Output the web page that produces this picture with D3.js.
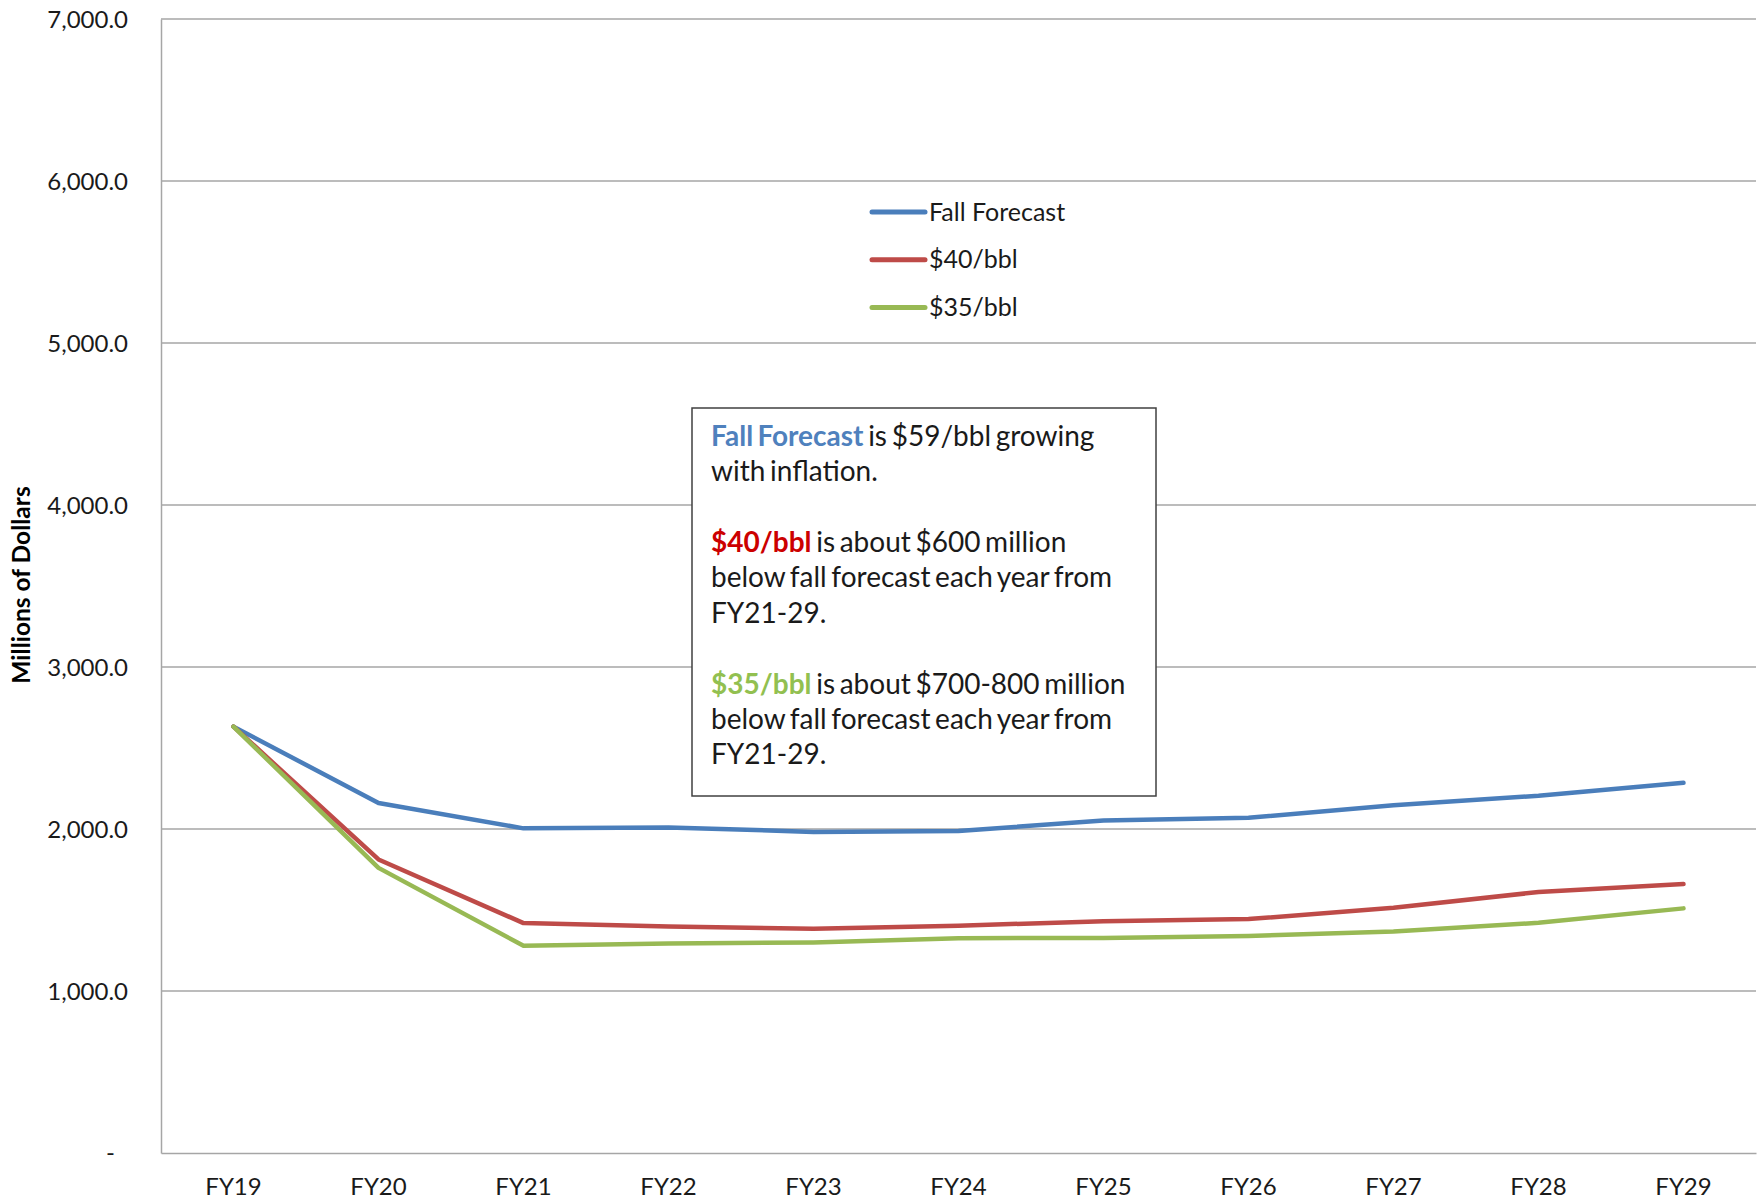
<!DOCTYPE html>
<html>
<head>
<meta charset="utf-8">
<script src="https://cdn.jsdelivr.net/npm/d3@7"></script>
<style>
  html, body { margin: 0; padding: 0; background: #fff; }
  svg { display: block; font-family: Lato, "Noto Sans", sans-serif; }
</style>
</head>
<body>
<svg id="chart" width="1764" height="1202"></svg>
<script>
// Fiscal years on the x axis
const years = ["FY19", "FY20", "FY21", "FY22", "FY23", "FY24", "FY25", "FY26", "FY27", "FY28", "FY29"];

// Revenue by oil price scenario, millions of dollars
const fallForecast = [2632, 2160, 2004, 2010, 1982, 1988, 2052, 2069, 2146, 2205, 2285];
const bbl40        = [2632, 1812, 1419, 1398, 1384, 1403, 1431, 1444, 1514, 1611, 1660];
const bbl35        = [2632, 1760, 1279, 1293, 1300, 1326, 1327, 1340, 1368, 1421, 1510];

const seriesNames = ["Fall Forecast", "$40/bbl", "$35/bbl"];
const yTicks = [0, 1000, 2000, 3000, 4000, 5000, 6000, 7000];

const series = [
  { name: seriesNames[0], values: fallForecast, color: "#4a7ebb" },
  { name: seriesNames[1], values: bbl40,        color: "#be4b48" },
  { name: seriesNames[2], values: bbl35,        color: "#98b954" }
];

const svg = d3.select("#chart");
const plot = { left: 161, right: 1756, top: 19, bottom: 1153 };

const x = d3.scaleBand().domain(years).range([plot.left, plot.right]);
const y = d3.scaleLinear().domain([0, 7000]).range([plot.bottom, plot.top]);
const cx = d => x(d) + x.bandwidth() / 2;

// Horizontal gridlines
svg.append("g")
  .selectAll("line")
  .data(yTicks.filter(t => t > 0))
  .join("line")
  .attr("x1", plot.left).attr("x2", plot.right)
  .attr("y1", d => y(d)).attr("y2", d => y(d))
  .attr("stroke", "#a6a6a6").attr("stroke-width", 1.5);

// Y axis with accounting-style labels
const fmt = d3.format(",.1f");
const yAxis = svg.append("g")
  .attr("transform", `translate(${plot.left},0)`)
  .call(d3.axisLeft(y).tickValues(yTicks).tickSize(0).tickPadding(33)
    .tickFormat(d => d === 0 ? "-" : fmt(d)));
yAxis.select(".domain").attr("stroke", "#a6a6a6").attr("stroke-width", 1.5);
yAxis.selectAll("text")
  .attr("font-size", 24).attr("fill", "#1a1a1a")
  .attr("font-family", "Lato, 'Noto Sans', sans-serif")
  .attr("dy", "0.35em")
  .filter(d => d === 0).attr("x", -46).attr("dy", "0.3em");

// X axis
const xAxis = svg.append("g")
  .attr("transform", `translate(0,${plot.bottom})`)
  .call(d3.axisBottom(x).tickSize(0).tickPadding(0));
xAxis.select(".domain").attr("stroke", "#a6a6a6").attr("stroke-width", 1.5);
xAxis.selectAll("text")
  .attr("font-size", 24).attr("fill", "#1a1a1a")
  .attr("font-family", "Lato, 'Noto Sans', sans-serif")
  .attr("y", 34).attr("dy", "0.35em");

// Axis title
svg.append("text")
  .attr("transform", "translate(30,585) rotate(-90)")
  .attr("text-anchor", "middle")
  .attr("font-size", 24.5).attr("font-weight", "bold").attr("fill", "#000")
  .text("Millions of Dollars");

// Series lines
const line = d3.line()
  .x((d, i) => cx(years[i]))
  .y(d => y(d));

svg.append("g")
  .selectAll("path")
  .data(series)
  .join("path")
  .attr("d", d => line(d.values))
  .attr("fill", "none")
  .attr("stroke", d => d.color)
  .attr("stroke-width", 4.5)
  .attr("stroke-linejoin", "round")
  .attr("stroke-linecap", "round");

// Legend
const legend = svg.append("g").attr("transform", "translate(872,212)");
const row = legend.selectAll("g")
  .data(series)
  .join("g")
  .attr("transform", (d, i) => `translate(0,${i * 47.7})`);
row.append("line")
  .attr("x1", 0).attr("x2", 53)
  .attr("stroke", d => d.color).attr("stroke-width", 5)
  .attr("stroke-linecap", "round");
row.append("text")
  .attr("x", 57).attr("dy", "0.35em")
  .attr("font-size", 25).attr("fill", "#1a1a1a")
  .text(d => d.name);

// Annotation box
const note = svg.append("g");
note.append("rect")
  .attr("x", 692).attr("y", 408)
  .attr("width", 464).attr("height", 388)
  .attr("fill", "#fff").attr("stroke", "#404040").attr("stroke-width", 1.5);

const noteLines = [
  [{ t: "Fall Forecast", c: "#4f81bd", b: true }, { t: " is $59/bbl growing" }],
  [{ t: "with inflation." }],
  null,
  [{ t: "$40/bbl", c: "#cc0000", b: true }, { t: " is about $600 million" }],
  [{ t: "below fall forecast each year from" }],
  [{ t: "FY21-29." }],
  null,
  [{ t: "$35/bbl", c: "#92c050", b: true }, { t: " is about $700-800 million" }],
  [{ t: "below fall forecast each year from" }],
  [{ t: "FY21-29." }]
];

const noteText = note.append("text")
  .attr("font-size", 28).attr("fill", "#1a1a1a")
  .attr("word-spacing", -2.5);
noteLines.forEach((parts, i) => {
  if (!parts) return;
  const ly = 436 + i * 35.4;
  parts.forEach((p, j) => {
    const ts = noteText.append("tspan").text(p.t);
    if (j === 0) ts.attr("x", 711).attr("y", ly).attr("dy", "0.35em");
    if (p.c) ts.attr("fill", p.c);
    if (p.b) ts.attr("font-weight", "bold");
  });
});
</script>
</body>
</html>
